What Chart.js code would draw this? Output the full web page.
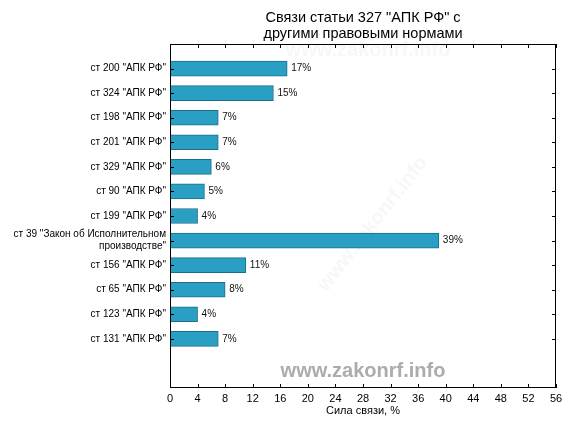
<!DOCTYPE html>
<html>
<head>
<meta charset="utf-8">
<script src="https://cdn.jsdelivr.net/npm/chart.js@4/dist/chart.umd.min.js"></script>
<style>
  html, body { margin: 0; padding: 0; background: #fff; }
  #wrap { width: 576px; height: 432px; }
</style>
</head>
<body>
<div id="wrap"><canvas id="chart" width="576" height="432"></canvas></div>
<script>
const titleLines = ['Связи статьи 327 "АПК РФ" с', 'другими правовыми нормами'];
const categories = [
    'ст 200 "АПК РФ"',
    'ст 324 "АПК РФ"',
    'ст 198 "АПК РФ"',
    'ст 201 "АПК РФ"',
    'ст 329 "АПК РФ"',
    'ст 90 "АПК РФ"',
    'ст 199 "АПК РФ"',
    ['ст 39 "Закон об Исполнительном', 'производстве"'],
    'ст 156 "АПК РФ"',
    'ст 65 "АПК РФ"',
    'ст 123 "АПК РФ"',
    'ст 131 "АПК РФ"',
];
const values = [17, 15, 7, 7, 6, 5, 4, 39, 11, 8, 4, 7];
const xTicks = [0, 4, 8, 12, 16, 20, 24, 28, 32, 36, 40, 44, 48, 52, 56];
const xTitle = 'Сила связи, %';
const watermark = 'www.zakonrf.info';

Chart.defaults.font.family = '"Liberation Sans", Arial, sans-serif';
Chart.defaults.color = '#000';

// one empty slot above the bars and two below, as in the original
const labels = [''].concat(categories, ['', '']);
const data = [null].concat(values, [null, null]);

const ctx = document.getElementById('chart');

new Chart(ctx, {
    type: 'bar',
    data: {
        labels: labels,
        datasets: [{
            data: data,
            backgroundColor: '#2a9fc4',
            borderColor: '#1b6f88',
            borderWidth: 1,
            borderSkipped: false,
            barThickness: 15,
        }],
    },
    options: {
        indexAxis: 'y',
        responsive: false,
        animation: false,
        layout: { padding: { top: 44, right: 20, left: 0, bottom: 0 } },
        scales: {
            x: {
                type: 'linear',
                min: 0,
                max: 56,
                afterBuildTicks: (scale) => {
                    scale.ticks = xTicks.map(v => ({ value: v }));
                },
                afterFit: (scale) => { scale.height = 44; },
                grid: { display: false, drawTicks: false },
                border: { display: false },
                ticks: { padding: 4, font: { size: 11 }, color: '#000', maxRotation: 0 },
                title: {
                    display: true,
                    text: xTitle,
                    font: { size: 11 },
                    padding: { top: 0, bottom: 14 },
                },
            },
            y: {
                type: 'category',
                offset: false,
                afterFit: (scale) => { scale.width = 170; },
                grid: { display: false, drawTicks: false },
                border: { display: false },
                ticks: {
                    padding: 4,
                    font: { size: 10 },
                    color: '#000',
                    autoSkip: false,
                },
            },
        },
        plugins: {
            legend: { display: false },
            tooltip: { enabled: false },
        },
    },
    plugins: [
        {
            id: 'watermarks',
            beforeDatasetsDraw(chart) {
                const { ctx, chartArea: { left, right, top, bottom } } = chart;
                const cx = (left + right) / 2;
                ctx.save();
                ctx.textAlign = 'center';
                ctx.textBaseline = 'middle';
                ctx.font = 'bold 20px "Liberation Sans", Arial, sans-serif';
                ctx.fillStyle = '#f7f7f7';
                ctx.fillText(watermark, cx + 5, top + 6);
                ctx.save();
                ctx.translate(cx + 10, top + 180);
                ctx.rotate(-52 * Math.PI / 180);
                ctx.fillText(watermark, 0, 0);
                ctx.restore();
                ctx.fillStyle = '#acacac';
                ctx.fillText(watermark, cx, bottom - 17);
                ctx.restore();
            },
        },
        {
            id: 'frameAndLabels',
            afterDraw(chart) {
                const { ctx, chartArea: { left, right, top, bottom } } = chart;
                const xs = chart.scales.x;
                const ys = chart.scales.y;
                ctx.save();
                ctx.strokeStyle = '#000';
                ctx.lineWidth = 1;
                ctx.strokeRect(left + 0.5, top + 0.5, right - left - 1, bottom - top - 1);
                ctx.beginPath();
                xTicks.forEach(v => {
                    const px = Math.round(xs.getPixelForValue(v)) + 0.5;
                    ctx.moveTo(px, bottom); ctx.lineTo(px, bottom - 4);
                    ctx.moveTo(px, top); ctx.lineTo(px, top + 4);
                });
                categories.forEach((c, i) => {
                    const py = Math.round(ys.getPixelForValue(i + 1)) + 0.5;
                    ctx.moveTo(left, py); ctx.lineTo(left + 4, py);
                    ctx.moveTo(right, py); ctx.lineTo(right - 4, py);
                });
                ctx.stroke();

                // value labels
                ctx.font = '10px "Liberation Sans", Arial, sans-serif';
                ctx.fillStyle = '#111';
                ctx.textAlign = 'left';
                ctx.textBaseline = 'middle';
                const meta = chart.getDatasetMeta(0);
                meta.data.forEach((bar, i) => {
                    if (data[i] == null) return;
                    ctx.fillText(data[i] + '%', bar.x + 4, bar.y);
                });

                // title over the plot area
                ctx.font = '14.5px "Liberation Sans", Arial, sans-serif';
                ctx.fillStyle = '#000';
                ctx.textAlign = 'center';
                const tx = (left + right) / 2;
                titleLines.forEach((line, i) => {
                    ctx.fillText(line, tx, 18 + i * 16);
                });
                ctx.restore();
            },
        },
    ],
});
</script>
</body>
</html>
